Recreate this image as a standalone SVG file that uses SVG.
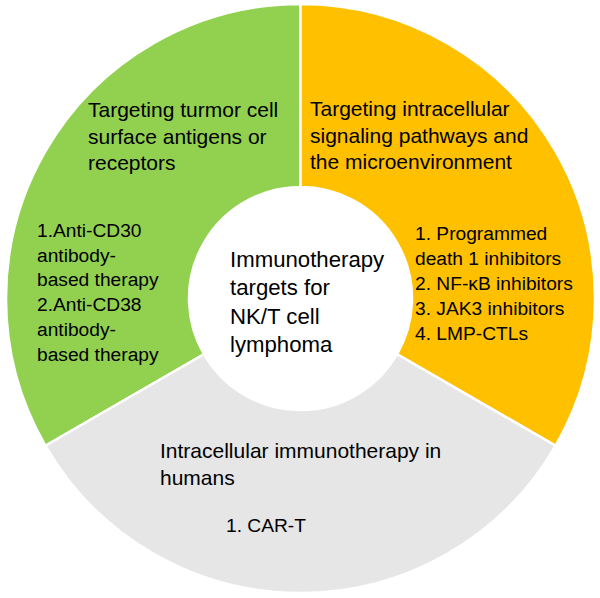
<svg xmlns="http://www.w3.org/2000/svg" width="600" height="598" viewBox="0 0 600 598">
<style>
.seg{stroke:#ffffff;stroke-width:2.5;stroke-linejoin:miter}
.t{font-family:"Liberation Sans",Arial,sans-serif;fill:#000000}
.title{font-size:21px}
.item{font-size:19.2px}
.center{font-size:22.2px}
</style>
<rect width="600" height="598" fill="#ffffff"/>
<g id="green-sector">
<path class="seg" fill="#92D050" d="M300.5 4 A294.5 294.5 0 0 0 45.45 445.75 L203.94 354.25 A111.5 111.5 0 0 1 300.5 187 Z"/>
<text class="t title" x="88" y="117">Targeting turmor cell</text>
<text class="t title" x="88" y="143.5">surface antigens or</text>
<text class="t title" x="88" y="170">receptors</text>
<text class="t item" x="37" y="237">1.Anti-CD30</text>
<text class="t item" x="37" y="261.8">antibody-</text>
<text class="t item" x="37" y="286.4">based therapy</text>
<text class="t item" x="37" y="311.2">2.Anti-CD38</text>
<text class="t item" x="37" y="336">antibody-</text>
<text class="t item" x="37" y="360.6">based therapy</text>
</g>
<g id="orange-sector">
<path class="seg" fill="#FFC000" d="M300.5 4 A294.5 294.5 0 0 1 555.55 445.75 L397.06 354.25 A111.5 111.5 0 0 0 300.5 187 Z"/>
<text class="t title" x="310" y="116">Targeting intracellular</text>
<text class="t title" x="310" y="142.5">signaling pathways and</text>
<text class="t title" x="310" y="169">the microenvironment</text>
<text class="t item" x="415" y="240">1. Programmed</text>
<text class="t item" x="415" y="265">death 1 inhibitors</text>
<text class="t item" x="415" y="290">2. NF-κB inhibitors</text>
<text class="t item" x="415" y="315">3. JAK3 inhibitors</text>
<text class="t item" x="415" y="339.5">4. LMP-CTLs</text>
</g>
<g id="gray-sector">
<path class="seg" fill="#E6E6E6" d="M555.55 445.75 A294.5 294.5 0 0 1 45.45 445.75 L203.94 354.25 A111.5 111.5 0 0 0 397.06 354.25 Z"/>
<text class="t title" x="160" y="458.3">Intracellular immunotherapy in</text>
<text class="t title" x="160" y="484.5">humans</text>
<text class="t item" x="226" y="531.7">1. CAR-T</text>
</g>
<g id="center">
<circle cx="300.5" cy="298.5" r="110" fill="#ffffff"/>
<text class="t center" x="230" y="266.7">Immunotherapy</text>
<text class="t center" x="230" y="295.3">targets for</text>
<text class="t center" x="230" y="324">NK/T cell</text>
<text class="t center" x="230" y="352">lymphoma</text>
</g>
</svg>
